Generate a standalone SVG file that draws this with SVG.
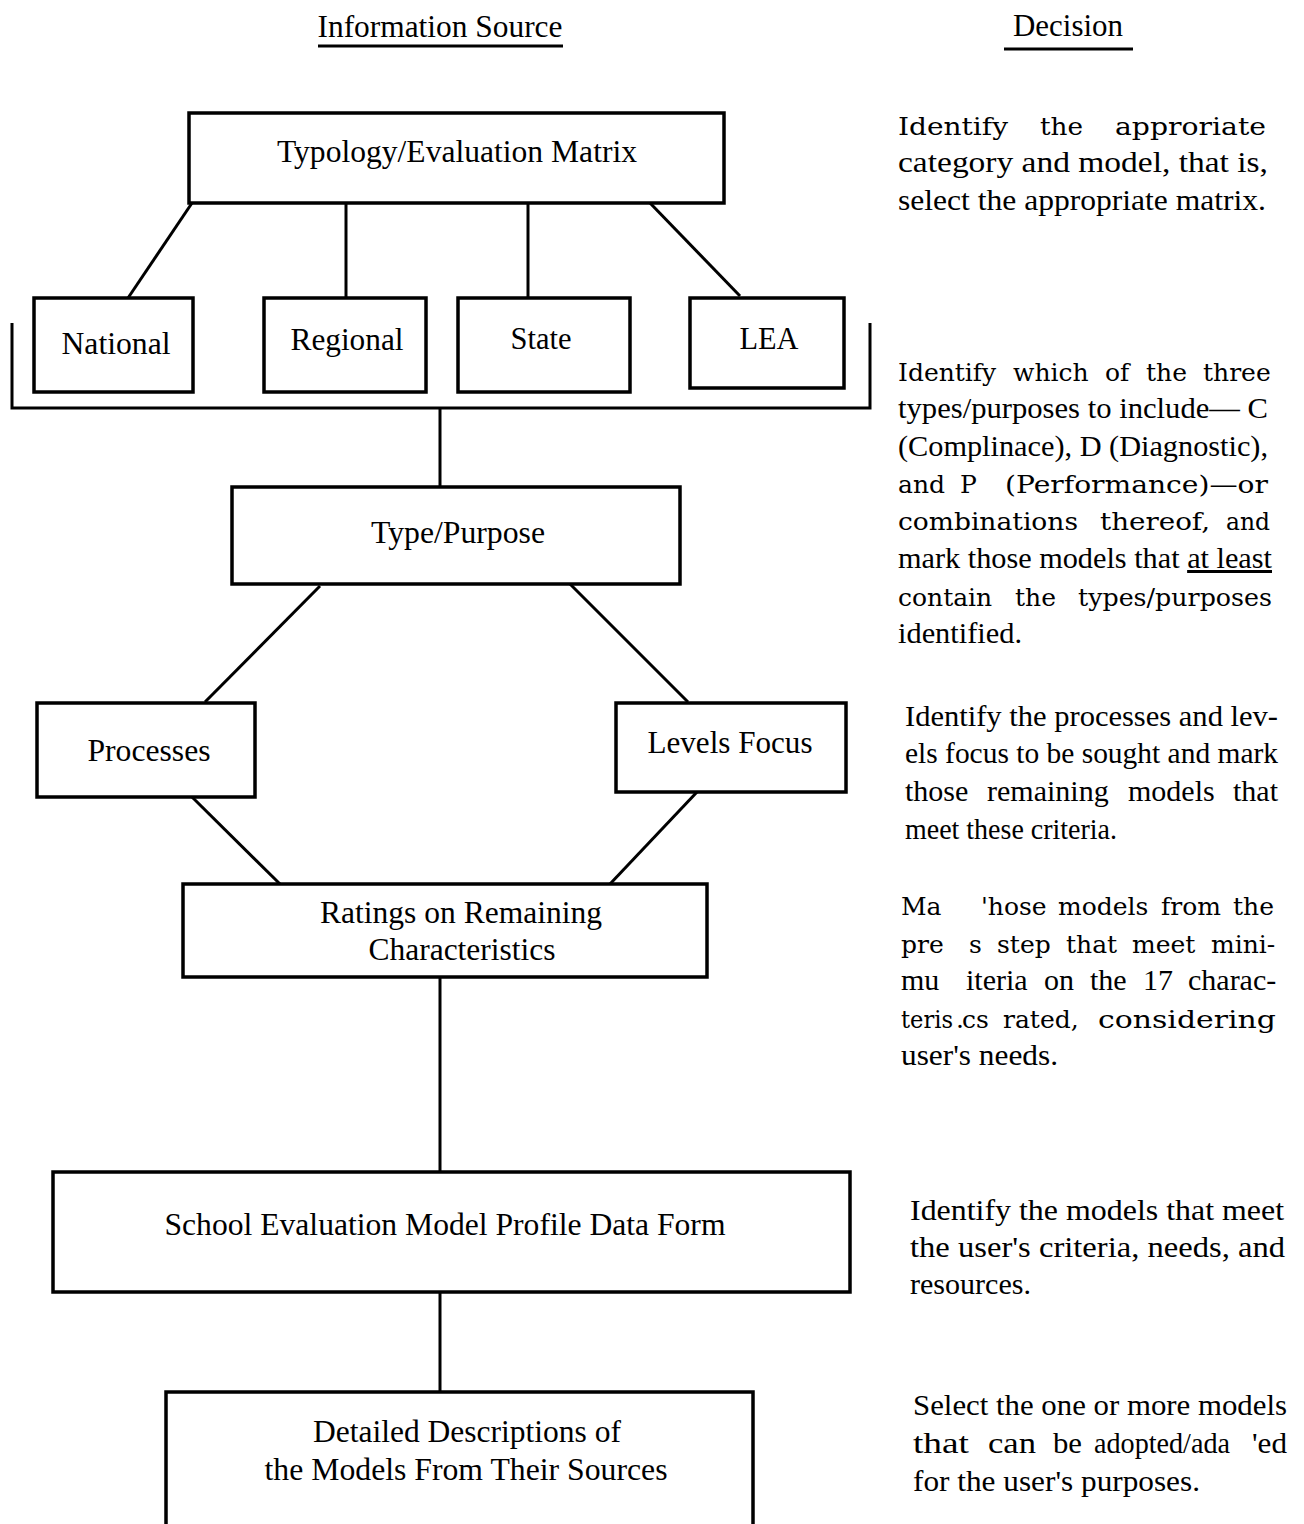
<svg xmlns="http://www.w3.org/2000/svg" width="1304" height="1524" viewBox="0 0 1304 1524">
<style>
text{font-family:"Liberation Serif","Times New Roman",serif;fill:#000;}
.hd{font-size:31px;text-anchor:middle;}
.lbl{font-size:31px;text-anchor:middle;}
.dec{font-size:30px;}
.w{font-family:"DejaVu Serif","Liberation Serif",serif;font-size:25px;}
.box{fill:#fff;stroke:#000;stroke-width:3.5;}
.ln{stroke:#000;stroke-width:3;fill:none;}
</style>
<rect width="1304" height="1524" fill="#fff"/>
<g id="headers">
<text class="hd" x="440" y="37" textLength="245" lengthAdjust="spacingAndGlyphs">Information Source</text>
<line class="ln" x1="318" y1="46" x2="563" y2="46" stroke-width="2"/>
<text class="hd" x="1068" y="36" textLength="110" lengthAdjust="spacingAndGlyphs">Decision</text>
<line class="ln" x1="1004" y1="49" x2="1133" y2="49" stroke-width="2"/>
</g>
<g id="connectors">
<line class="ln" x1="192" y1="203" x2="128" y2="298"/>
<line class="ln" x1="346" y1="203" x2="346" y2="298"/>
<line class="ln" x1="528" y1="203" x2="528" y2="298"/>
<line class="ln" x1="650" y1="203" x2="740" y2="296"/>
<path class="ln" d="M12 323 V408 H870 V323"/>
<line class="ln" x1="440" y1="408" x2="440" y2="487"/>
<line class="ln" x1="320" y1="586" x2="205" y2="702"/>
<line class="ln" x1="570" y1="584" x2="688" y2="702"/>
<line class="ln" x1="192" y1="797" x2="280" y2="884"/>
<line class="ln" x1="697" y1="792" x2="610" y2="884"/>
<line class="ln" x1="440" y1="977" x2="440" y2="1172"/>
<line class="ln" x1="440" y1="1292" x2="440" y2="1392"/>
</g>
<g id="typology">
<rect class="box" x="189" y="113" width="535" height="90"/>
<text class="lbl" x="457" y="162" textLength="360" lengthAdjust="spacingAndGlyphs">Typology/Evaluation Matrix</text>
</g>
<g id="national">
<rect class="box" x="34" y="298" width="159" height="94"/>
<text class="lbl" x="116" y="354" textLength="109" lengthAdjust="spacingAndGlyphs">National</text>
</g>
<g id="regional">
<rect class="box" x="264" y="298" width="162" height="94"/>
<text class="lbl" x="347" y="350" textLength="113" lengthAdjust="spacingAndGlyphs">Regional</text>
</g>
<g id="state">
<rect class="box" x="458" y="298" width="172" height="94"/>
<text class="lbl" x="541" y="349" textLength="61" lengthAdjust="spacingAndGlyphs">State</text>
</g>
<g id="lea">
<rect class="box" x="690" y="298" width="154" height="90"/>
<text class="lbl" x="769" y="349" textLength="59" lengthAdjust="spacingAndGlyphs">LEA</text>
</g>
<g id="type-purpose">
<rect class="box" x="232" y="487" width="448" height="97"/>
<text class="lbl" x="458" y="543" textLength="174" lengthAdjust="spacingAndGlyphs">Type/Purpose</text>
</g>
<g id="processes">
<rect class="box" x="37" y="703" width="218" height="94"/>
<text class="lbl" x="149" y="761" textLength="123" lengthAdjust="spacingAndGlyphs">Processes</text>
</g>
<g id="levels-focus">
<rect class="box" x="616" y="703" width="230" height="89"/>
<text class="lbl" x="730" y="753" textLength="165" lengthAdjust="spacingAndGlyphs">Levels Focus</text>
</g>
<g id="ratings">
<rect class="box" x="183" y="884" width="524" height="93"/>
<text class="lbl" x="461" y="923" textLength="282" lengthAdjust="spacingAndGlyphs">Ratings on Remaining</text>
<text class="lbl" x="462" y="960" textLength="187" lengthAdjust="spacingAndGlyphs">Characteristics</text>
</g>
<g id="profile-form">
<rect class="box" x="53" y="1172" width="797" height="120"/>
<text class="lbl" x="445" y="1235" textLength="561" lengthAdjust="spacingAndGlyphs">School Evaluation Model Profile Data Form</text>
</g>
<g id="descriptions">
<rect class="box" x="166" y="1392" width="587" height="140"/>
<text class="lbl" x="467" y="1442" textLength="308" lengthAdjust="spacingAndGlyphs">Detailed Descriptions of</text>
<text class="lbl" x="466" y="1480" textLength="403" lengthAdjust="spacingAndGlyphs">the Models From Their Sources</text>
</g>
<g id="decisions">
<text class="w" y="135" font-size="28"><tspan x="898" textLength="110" lengthAdjust="spacingAndGlyphs">Identify</tspan><tspan x="1040" textLength="43" lengthAdjust="spacingAndGlyphs">the</tspan><tspan x="1115" textLength="151" lengthAdjust="spacingAndGlyphs">approriate</tspan></text>
<text class="dec" x="898" y="172" textLength="370" lengthAdjust="spacingAndGlyphs">category and model, that is,</text>
<text class="dec" x="898" y="210" textLength="368" lengthAdjust="spacingAndGlyphs">select the appropriate matrix.</text>

<text class="w" y="381"><tspan x="898">Identify</tspan><tspan x="1013">which</tspan><tspan x="1105">of</tspan><tspan x="1146">the</tspan><tspan x="1203">three</tspan></text>
<text class="dec" x="898" y="418" textLength="370" lengthAdjust="spacingAndGlyphs">types/purposes to include— C</text>
<text class="dec" x="898" y="456" textLength="370" lengthAdjust="spacingAndGlyphs">(Complinace), D (Diagnostic),</text>
<text class="w" y="493"><tspan x="898">and</tspan><tspan x="960">P</tspan><tspan x="1005" textLength="263" lengthAdjust="spacingAndGlyphs">(Performance)—or</tspan></text>
<text class="w" y="530" font-size="25.5"><tspan x="898" textLength="180" lengthAdjust="spacingAndGlyphs">combinations</tspan><tspan x="1100" textLength="110" lengthAdjust="spacingAndGlyphs">thereof,</tspan><tspan x="1226" textLength="44" lengthAdjust="spacingAndGlyphs">and</tspan></text>
<text class="dec" x="898" y="568" textLength="374" lengthAdjust="spacingAndGlyphs">mark those models that <tspan text-decoration="underline">at least</tspan></text>
<text class="w" y="606"><tspan x="898">contain</tspan><tspan x="1015">the</tspan><tspan x="1078" textLength="194" lengthAdjust="spacingAndGlyphs">types/purposes</tspan></text>
<text class="dec" x="898" y="643" textLength="124" lengthAdjust="spacingAndGlyphs">identified.</text>

<text class="dec" x="905" y="726" textLength="373" lengthAdjust="spacingAndGlyphs">Identify the processes and lev-</text>
<text class="dec" x="905" y="763" textLength="373" lengthAdjust="spacingAndGlyphs">els focus to be sought and mark</text>
<text class="dec" y="801"><tspan x="905">those</tspan><tspan x="987">remaining</tspan><tspan x="1128">models</tspan><tspan x="1233">that</tspan></text>
<text class="dec" x="905" y="839" textLength="212" lengthAdjust="spacingAndGlyphs">meet these criteria.</text>

<text class="w" y="915"><tspan x="901">Ma</tspan><tspan x="981">'hose</tspan><tspan x="1058">models</tspan><tspan x="1161">from</tspan><tspan x="1233">the</tspan></text>
<text class="w" y="953"><tspan x="901">pre</tspan><tspan x="969">s</tspan><tspan x="997">step</tspan><tspan x="1066">that</tspan><tspan x="1132">meet</tspan><tspan x="1211">mini-</tspan></text>
<text class="dec" y="990"><tspan x="901">mu</tspan><tspan x="966">iteria</tspan><tspan x="1044">on</tspan><tspan x="1090">the</tspan><tspan x="1143">17</tspan><tspan x="1188">charac-</tspan></text>
<text class="w" y="1028" font-size="27"><tspan x="901" textLength="52" lengthAdjust="spacingAndGlyphs">teris</tspan><tspan x="956">.</tspan><tspan x="962">cs</tspan><tspan x="1003">rated,</tspan><tspan x="1098" textLength="178" lengthAdjust="spacingAndGlyphs">considering</tspan></text>
<text class="dec" x="901" y="1065" textLength="157" lengthAdjust="spacingAndGlyphs">user's needs.</text>

<text class="dec" x="910" y="1220" textLength="374" lengthAdjust="spacingAndGlyphs">Identify the models that meet</text>
<text class="dec" x="910" y="1257" textLength="375" lengthAdjust="spacingAndGlyphs">the user's criteria, needs, and</text>
<text class="dec" x="910" y="1294" textLength="121" lengthAdjust="spacingAndGlyphs">resources.</text>

<text class="dec" x="913" y="1415" textLength="374" lengthAdjust="spacingAndGlyphs">Select the one or more models</text>
<text class="dec" y="1453"><tspan x="913" textLength="56" lengthAdjust="spacingAndGlyphs">that</tspan><tspan x="988" textLength="48" lengthAdjust="spacingAndGlyphs">can</tspan><tspan x="1053" textLength="29" lengthAdjust="spacingAndGlyphs">be</tspan><tspan x="1094" textLength="136" lengthAdjust="spacingAndGlyphs">adopted/ada</tspan><tspan x="1252" textLength="35" lengthAdjust="spacingAndGlyphs">'ed</tspan></text>
<text class="dec" x="913" y="1491" textLength="287" lengthAdjust="spacingAndGlyphs">for the user's purposes.</text>
</g>
</svg>
